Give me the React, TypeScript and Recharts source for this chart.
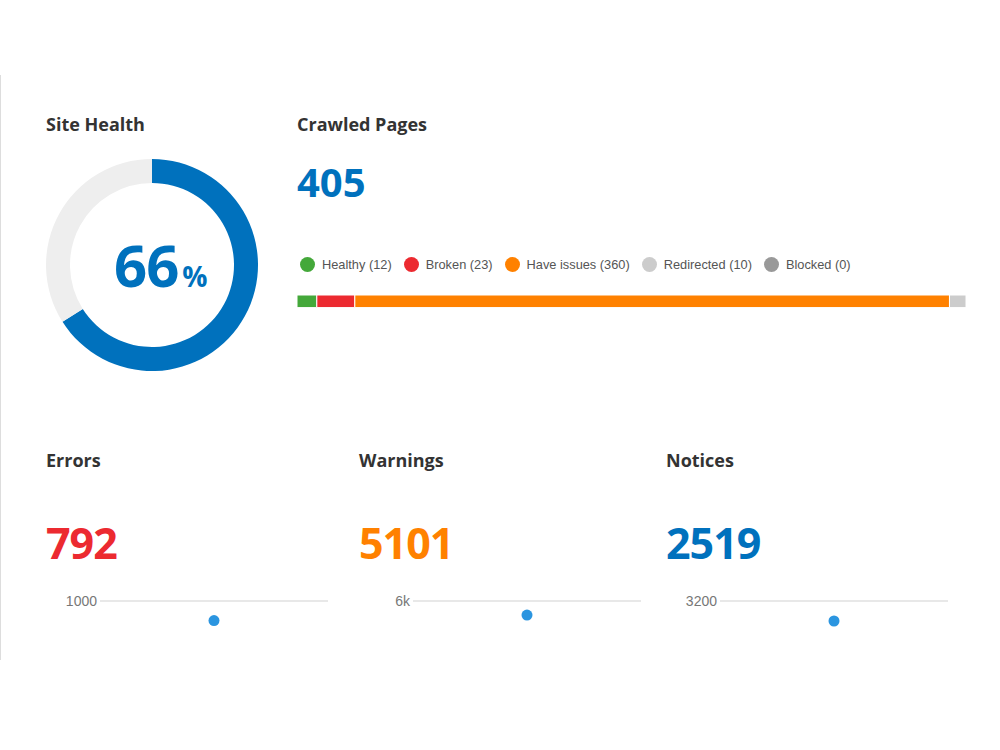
import React from "react";
import {
  PieChart, Pie, Cell, BarChart, Bar, XAxis, YAxis, Legend, LineChart, Line, CartesianGrid,
} from "recharts";

const BLUE = "#0071bd";
const TITLE = "#333333";
const FONT = "'Open Sans', 'Noto Sans', sans-serif";
const ARIAL = "'Liberation Sans', Arial, sans-serif";

// site health
const healthValues = [66, 34];
const healthColors = [BLUE, "#eeeeee"];

// crawled pages
const pageCategories = ["Healthy", "Broken", "Have issues", "Redirected", "Blocked"];
const pageCounts = [12, 23, 360, 10, 0];
const pageColors = ["#44a83a", "#ec2a30", "#ff8100", "#cccccc", "#999999"];
const totalPages = 405;

// issue cards
const issueTitles = ["Errors", "Warnings", "Notices"];
const issueValues = [792, 5101, 2519];
const issueColors = ["#ec2a30", "#ff8100", BLUE];
const issueTicks = [1000, 6000, 3200];
const issueTickLabels = ["1000", "6k", "3200"];
const issueLeft = [46, 359, 666];

const DOT = "#2b95e0";

const abs = (left: number, top: number): React.CSSProperties => ({ position: "absolute", left, top });

function Title({ x, y, text }: { x: number; y: number; text: string }) {
  return (
    <div style={{ ...abs(x, y), fontFamily: FONT, fontWeight: 700, fontSize: 18, lineHeight: 1, color: TITLE, whiteSpace: "nowrap" }}>
      {text}
    </div>
  );
}

function PagesLegend({ payload }: any) {
  // keep the series order instead of the alphabetical default
  const items = [...(payload || [])].sort(
    (a: any, b: any) => pageCategories.indexOf(a.dataKey) - pageCategories.indexOf(b.dataKey),
  );
  return (
    <div style={{ display: "flex", alignItems: "center", height: 20, paddingLeft: 3, fontFamily: ARIAL, fontSize: 12.8, color: "#555" }}>
      {items.map((p: any) => (
        <div key={p.value} style={{ display: "flex", alignItems: "center", marginRight: 12 }}>
          <span style={{ width: 15, height: 15, borderRadius: "50%", background: p.color, marginRight: 7, display: "inline-block" }} />
          <span>{p.value}</span>
        </div>
      ))}
    </div>
  );
}

function Sparkline({ idx }: { idx: number }) {
  const data = [{ name: issueTitles[idx], value: issueValues[idx] }];
  return (
    <div style={{ ...abs(issueLeft[idx], 591), height: 69, overflow: "hidden" }}>
      <LineChart width={282} height={104} data={data} margin={{ top: 10, right: 0, bottom: 0, left: 0 }}>
        <CartesianGrid vertical={false} stroke="#e8e8e8" strokeWidth={2} />
        <XAxis dataKey="name" hide />
        <YAxis
          width={54}
          domain={[0, issueTicks[idx]]}
          ticks={[issueTicks[idx]]}
          tickFormatter={() => issueTickLabels[idx]}
          axisLine={false}
          tickLine={false}
          tickSize={0}
          tickMargin={3}
          tick={{ fill: "#777", fontSize: 14, fontFamily: ARIAL }}
        />
        <Line
          dataKey="value"
          stroke={DOT}
          isAnimationActive={false}
          dot={{ r: 5.5, fill: DOT, stroke: "none" }}
          activeDot={false}
        />
      </LineChart>
    </div>
  );
}

export default function App() {
  const pieData = healthValues.map((v, i) => ({ name: i === 0 ? "Health" : "Rest", value: v }));
  const barRow = [Object.fromEntries(pageCategories.map((c, i) => [c, pageCounts[i]]))];

  return (
    <div style={{ position: "absolute", left: 0, top: 0, width: 1000, height: 750, background: "#fff", overflow: "hidden" }}>
      <div style={{ ...abs(0, 75), width: 1, height: 585, background: "#dddddd" }} />

      <Title x={46} y={115} text="Site Health" />
      <div style={abs(42, 155)}>
        <PieChart width={220} height={220} margin={{ top: 0, right: 0, bottom: 0, left: 0 }}>
          <Pie
            data={pieData}
            dataKey="value"
            cx={110}
            cy={110}
            innerRadius={82}
            outerRadius={106}
            startAngle={90}
            endAngle={-270}
            stroke="none"
            isAnimationActive={false}
          >
            {pieData.map((d, i) => <Cell key={d.name} fill={healthColors[i]} />)}
          </Pie>
        </PieChart>
      </div>
      <div style={{ ...abs(114, 236), display: "flex", alignItems: "baseline", fontFamily: FONT, fontWeight: 700, color: BLUE, lineHeight: 1 }}>
        <span style={{ fontSize: 58, letterSpacing: -1 }}>{healthValues[0]}</span>
        <span style={{ fontSize: 28, marginLeft: 4 }}>%</span>
      </div>

      <Title x={297} y={115} text="Crawled Pages" />
      <div style={{ ...abs(297, 162), fontFamily: FONT, fontWeight: 700, fontSize: 40, lineHeight: 1, color: BLUE }}>
        {totalPages}
      </div>
      <div style={abs(297, 254)}>
        <BarChart width={669} height={54} data={barRow} layout="vertical" margin={{ top: 0, right: 0, bottom: 0, left: 0 }} barCategoryGap={0}>
          <XAxis type="number" domain={[0, totalPages]} hide />
          <YAxis type="category" hide />
          <Legend verticalAlign="top" align="left" height={40} content={<PagesLegend />} />
          {pageCategories.map((c, i) => (
            <Bar
              key={c}
              dataKey={c}
              name={`${c} (${pageCounts[i]})`}
              stackId="pages"
              fill={pageColors[i]}
              stroke="#fff"
              strokeWidth={1}
              barSize={14}
              isAnimationActive={false}
            />
          ))}
        </BarChart>
      </div>

      {issueTitles.map((t, i) => (
        <React.Fragment key={t}>
          <Title x={issueLeft[i]} y={451} text={t} />
          <div style={{ ...abs(issueLeft[i], 521), fontFamily: FONT, fontWeight: 700, fontSize: 43, letterSpacing: -1, lineHeight: 1, color: issueColors[i] }}>
            {issueValues[i]}
          </div>
          <Sparkline idx={i} />
        </React.Fragment>
      ))}
    </div>
  );
}
